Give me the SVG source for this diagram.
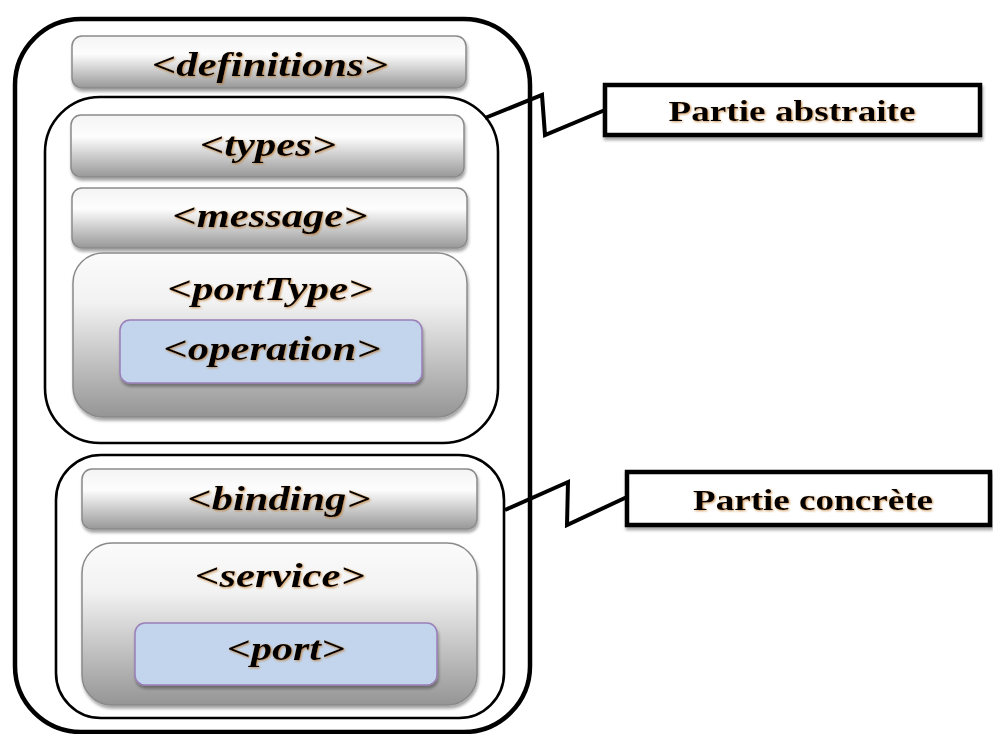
<svg xmlns="http://www.w3.org/2000/svg" width="993" height="734" viewBox="0 0 993 734">
<defs>
<linearGradient id="gBar" x1="0" y1="0" x2="0" y2="1">
<stop offset="0" stop-color="#f4f4f4"/>
<stop offset="0.35" stop-color="#fdfdfd"/>
<stop offset="1" stop-color="#989898"/>
</linearGradient>
<linearGradient id="gBig" x1="0" y1="0" x2="0" y2="1">
<stop offset="0" stop-color="#fbfbfb"/>
<stop offset="0.3" stop-color="#f2f2f2"/>
<stop offset="1" stop-color="#959595"/>
</linearGradient>
<filter id="shBox" x="-10%" y="-10%" width="120%" height="130%">
<feGaussianBlur in="SourceAlpha" stdDeviation="1.5"/>
<feOffset dx="1" dy="2.5" result="o"/>
<feFlood flood-color="#000" flood-opacity="0.35"/>
<feComposite in2="o" operator="in"/>
<feMerge><feMergeNode/><feMergeNode in="SourceGraphic"/></feMerge>
</filter>
<filter id="shTxt" x="-10%" y="-20%" width="120%" height="150%">
<feGaussianBlur in="SourceAlpha" stdDeviation="1"/>
<feOffset dx="1" dy="1" result="o"/>
<feFlood flood-color="#b86a18" flood-opacity="0.7"/>
<feComposite in2="o" operator="in"/>
<feMerge><feMergeNode/><feMergeNode in="SourceGraphic"/></feMerge>
</filter>
</defs>
<style>
.grp{fill:none;stroke:#000;stroke-width:2.6}
.bar{fill:url(#gBar);stroke:#8a8a8a;stroke-width:1.5;filter:url(#shBox)}
.big{fill:url(#gBig);stroke:#8a8a8a;stroke-width:1.5;filter:url(#shBox)}
.blue{fill:#c3d5ec;stroke:#9a7fb8;stroke-width:1.5;filter:url(#shBox)}
.lbl{font-family:"Liberation Serif","Times New Roman",serif;font-weight:bold;font-style:italic;font-size:33px;fill:#000;text-anchor:middle;filter:url(#shTxt)}
.call{fill:#fff;stroke:#000;stroke-width:4.5;filter:url(#shBox)}
.ctxt{font-family:"Liberation Serif","Times New Roman",serif;font-weight:bold;font-size:30px;fill:#000;text-anchor:middle;filter:url(#shTxt)}
.conn{fill:none;stroke:#000;stroke-width:4;stroke-linejoin:miter}
</style>
<rect width="993" height="734" fill="#fff"/>
<g id="outer">
<rect x="15" y="19" width="515" height="713" rx="66" fill="none" stroke="#000" stroke-width="4.5"/>
</g>
<g id="definitions">
<rect class="bar" x="72" y="36" width="394" height="52" rx="10"/>
<text class="lbl" x="270" y="76" textLength="236" lengthAdjust="spacingAndGlyphs">&lt;definitions&gt;</text>
</g>
<g id="abstract-group">
<rect class="grp" x="45" y="97" width="453" height="346" rx="55"/>
</g>
<g id="types">
<rect class="bar" x="71" y="115" width="393" height="62" rx="10"/>
<text class="lbl" x="268" y="156" textLength="136" lengthAdjust="spacingAndGlyphs">&lt;types&gt;</text>
</g>
<g id="message">
<rect class="bar" x="72" y="188" width="395" height="60" rx="10"/>
<text class="lbl" x="270" y="227" textLength="195" lengthAdjust="spacingAndGlyphs">&lt;message&gt;</text>
</g>
<g id="portType">
<rect class="big" x="73" y="253" width="394" height="164" rx="30"/>
<text class="lbl" x="270" y="300" textLength="205" lengthAdjust="spacingAndGlyphs">&lt;portType&gt;</text>
</g>
<g id="operation">
<rect class="blue" x="120" y="320" width="302" height="63" rx="10"/>
<text class="lbl" x="272" y="360" textLength="217" lengthAdjust="spacingAndGlyphs">&lt;operation&gt;</text>
</g>
<g id="concrete-group">
<rect class="grp" x="56" y="455" width="448" height="263" rx="45"/>
</g>
<g id="binding">
<rect class="bar" x="82" y="469" width="395" height="60" rx="10"/>
<text class="lbl" x="279" y="510" textLength="183" lengthAdjust="spacingAndGlyphs">&lt;binding&gt;</text>
</g>
<g id="service">
<rect class="big" x="82" y="543" width="395" height="162" rx="30"/>
<text class="lbl" x="280" y="587" textLength="170" lengthAdjust="spacingAndGlyphs">&lt;service&gt;</text>
</g>
<g id="port">
<rect class="blue" x="135" y="623" width="302" height="62" rx="10"/>
<text class="lbl" x="286" y="660" textLength="118" lengthAdjust="spacingAndGlyphs">&lt;port&gt;</text>
</g>
<g id="connectors">
<polyline class="conn" points="485,118 542,95 545,135 605,110"/>
<polyline class="conn" points="505,510 568,482 567,525 627,497"/>
</g>
<g id="partie-abstraite">
<rect class="call" x="605" y="85" width="375" height="50"/>
<text class="ctxt" x="792" y="121" textLength="247" lengthAdjust="spacingAndGlyphs">Partie abstraite</text>
</g>
<g id="partie-concrete">
<rect class="call" x="627" y="472" width="363" height="53"/>
<text class="ctxt" x="813" y="510" textLength="240" lengthAdjust="spacingAndGlyphs">Partie concrète</text>
</g>
</svg>
